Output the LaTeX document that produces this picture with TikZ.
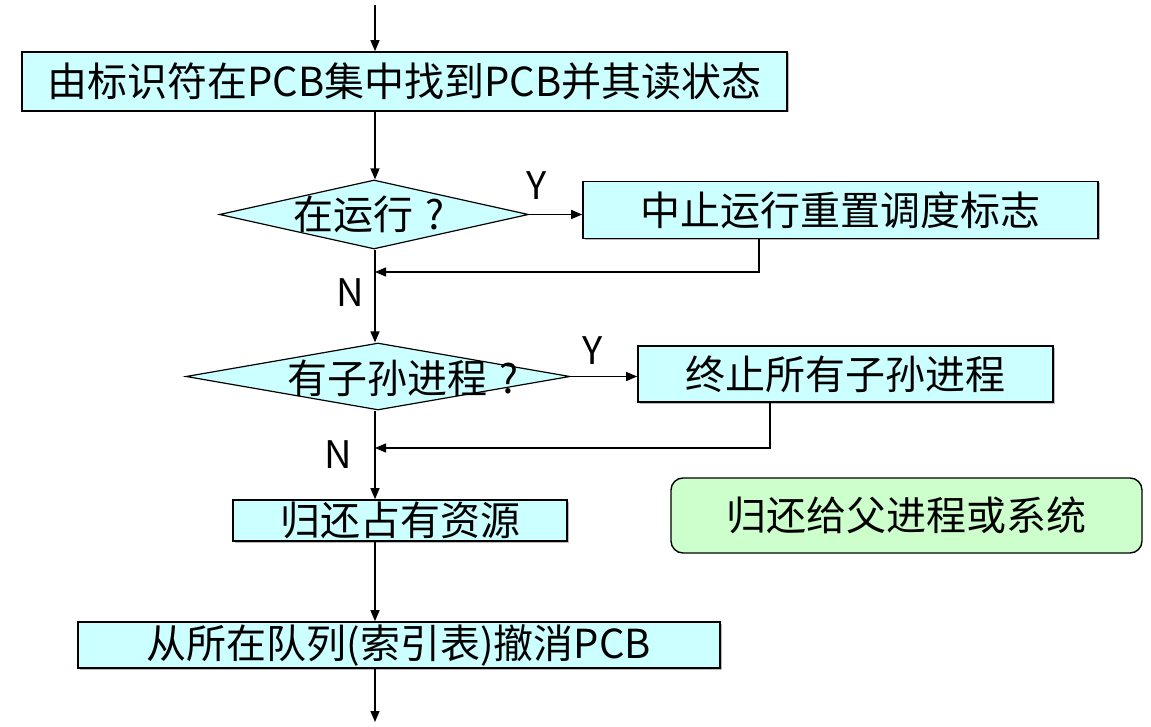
\documentclass[tikz,border=0pt]{standalone}
\usepackage{fontspec}
\newfontfamily\cjk{Noto Sans CJK SC}
\usetikzlibrary{shapes.geometric,arrows.meta,shadows}

\definecolor{boxcyan}{HTML}{CCFFFF}
\definecolor{boxgreen}{HTML}{CCFFCC}

\tikzset{
  x=1pt, y=-1pt,
  every node/.style={font=\cjk\fontsize{40}{44}\selectfont},
  procbox/.style={draw=black, line width=1.6pt, fill=boxcyan, inner sep=0pt,
    drop shadow={shadow xshift=1.5pt, shadow yshift=-1.5pt, fill=black!45, opacity=0.6}},
  decision/.style={diamond, draw=black, line width=1.2pt, fill=boxcyan, inner sep=0pt},
  notebox/.style={draw=black, line width=1.4pt, fill=boxgreen, rounded corners=12pt, inner sep=0pt},
  flow/.style={line width=1.4pt, -{Triangle[length=11pt,width=9pt]}},
  yn/.style={inner sep=0pt, font=\cjk\fontsize{38}{40}\selectfont},
}

\begin{document}
\begin{tikzpicture}
  \useasboundingbox (0,0) rectangle (1151,727);

  % vertical spine of the flow
  \coordinate (spine) at (375,0);
  \coordinate (start) at (375,5);
  \coordinate (finish) at (375,722);

  % process boxes
  \node[procbox, minimum width=765pt, minimum height=59pt] (b1) at (404.5,81.5)
    {由标识符在PCB集中找到PCB并其读状态};
  \node[procbox, minimum width=515pt, minimum height=57pt] (b2) at (840.5,210)
    {中止运行重置调度标志};
  \node[procbox, minimum width=415pt, minimum height=56pt] (b3) at (845.5,374)
    {终止所有子孙进程};
  \node[procbox, minimum width=334pt, minimum height=41pt] (b4) at (400,520.5)
    {归还占有资源};
  \node[notebox, minimum width=471pt, minimum height=75pt] (b5) at (906.5,515.5)
    {归还给父进程或系统};
  \node[procbox, minimum width=642pt, minimum height=46pt] (b6) at (399,645)
    {从所在队列(索引表)撤消PCB};

  % decisions
  \node[decision, minimum width=309pt, minimum height=69pt] (d1) at (374,214.5) {};
  \node[inner sep=0pt] (d1t) at (369,214) {在运行\hspace{0.3em}?};
  \node[decision, minimum width=384pt, minimum height=67pt] (d2) at (378,376.5) {};
  \node[inner sep=0pt] (d2t) at (403,378) {有子孙进程\hspace{0.3em}?};

  % branch labels
  \node[yn] (y1) at (537,186) {Y};
  \node[yn] (n1) at (350,293) {N};
  \node[yn] (y2) at (593,351) {Y};
  \node[yn] (n2) at (338,455) {N};

  % main flow
  \draw[flow] (start) -- (start |- b1.north);
  \draw[flow] (spine |- b1.south) -- (spine |- d1.north);
  \draw[flow] (d1.east) -- (d1.east -| b2.west);
  \draw[flow] (spine |- d1.south) -- (spine |- d2.north);
  \draw[flow] (d2.east) -- (d2.east -| b3.west);
  \draw[flow] (spine |- d2.south) -- (spine |- b4.north);
  \draw[flow] (spine |- b4.south) -- (spine |- b6.north);
  \draw[flow] (spine |- b6.south) -- (finish);

  % returns from the side branches
  \coordinate (r1) at (759,272);
  \coordinate (r2) at (770,448);
  \draw[flow] (r1 |- b2.south) -- (r1) -- (r1 -| spine);
  \draw[flow] (r2 |- b3.south) -- (r2) -- (r2 -| spine);
\end{tikzpicture}
\end{document}
